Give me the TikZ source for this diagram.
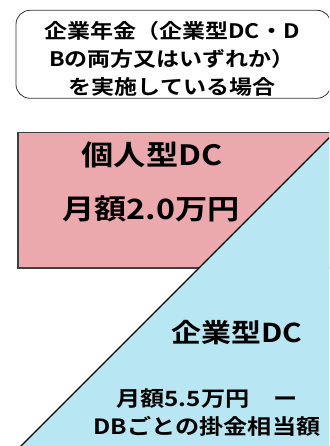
\documentclass[tikz,border=0pt]{standalone}
\usepackage{fontspec}
\newfontfamily\jpfont{Noto Sans CJK JP Bold}[FakeStretch=1.15]
\definecolor{dcpink}{HTML}{EBA9AD}
\definecolor{dcblue}{HTML}{B8E6F2}

\begin{document}
\begin{tikzpicture}[x=1pt, y=-1pt,
        % styles
        casebox/.style = {
                rectangle, rounded corners=14pt, draw=black!80, line width=0.8pt,
                minimum width=315pt, minimum height=88pt, inner sep=0pt
            },
        casetext/.style = {
                align=center, inner sep=0pt,
                font=\jpfont\fontsize{20pt}{28pt}\selectfont
            },
        bigtext/.style = {
                inner sep=0pt, font=\jpfont\fontsize{28pt}{28pt}\selectfont
            },
        midtext/.style = {
                inner sep=0pt, font=\jpfont\fontsize{26pt}{26pt}\selectfont
            },
        smalltext/.style = {
                align=center, inner sep=0pt,
                font=\jpfont\fontsize{21pt}{28pt}\selectfont
            },
        pinkarea/.style = {
                fill=dcpink, draw=black!75, line width=1.4pt
            },
        bluearea/.style = {
                fill=dcblue
            },
        edge/.style = {
                draw=black, line width=1.2pt
            }]

    \useasboundingbox (0,0) rectangle (329,446);
    \clip (0,0) rectangle (329,446);

    % upper box
    \node (case) [casebox] at (173.5,54.3) {};
    \node (caselines) [casetext] at (172,59) {企業年金（企業型DC・D\\Bの両方又はいずれか）\\を実施している場合};

    % areas
    \draw [pinkarea] (18,132.5) rectangle (345,268);
    \fill [bluearea] (345,122) -- (10,457) -- (345,457) -- cycle;
    \draw [edge] (345,122) -- (10,457);

    % texts
    \node (idc) [bigtext] at (152,155) {個人型DC};
    \node (idcamount) [bigtext] at (151,209) {月額2.0万円};
    \node (cdc) [midtext] at (237,333) {企業型DC};
    \node (cdcamount) [smalltext] at (207,413) {月額5.5万円　ー\\DBごとの掛金相当額};

\end{tikzpicture}
\end{document}
